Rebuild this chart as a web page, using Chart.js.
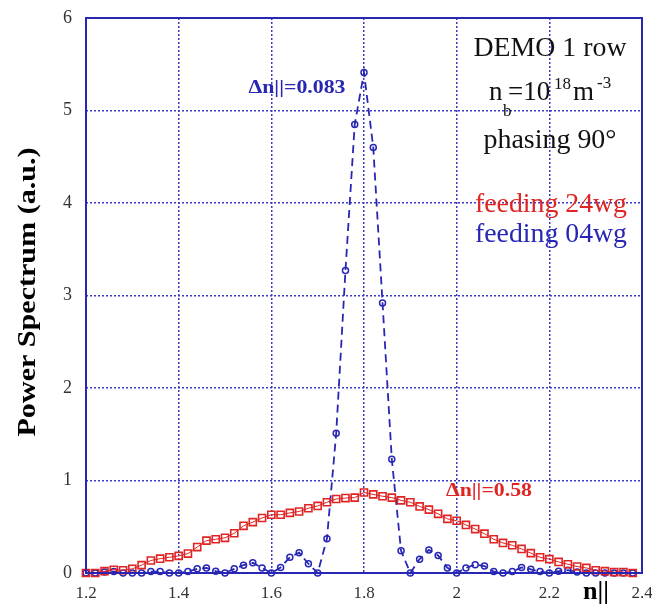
<!DOCTYPE html>
<html lang="en">
<head>
  <meta charset="UTF-8" />
  <title>DEMO 1 row - Power Spectrum</title>
  <script src="https://cdn.jsdelivr.net/npm/chart.js"></script>
  <style>
    html, body { margin: 0; padding: 0; background: #fff; }
    #wrap { width: 652px; height: 604px; position: relative; }
  </style>
</head>
<body>
  <div id="wrap">
    <canvas id="spectrum" width="652" height="604"></canvas>
  </div>

  <script>
    // n|| sample points (step 0.02)
    const nPar = [
      1.20, 1.22, 1.24, 1.26, 1.28, 1.30, 1.32, 1.34, 1.36, 1.38,
      1.40, 1.42, 1.44, 1.46, 1.48, 1.50, 1.52, 1.54, 1.56, 1.58,
      1.60, 1.62, 1.64, 1.66, 1.68, 1.70, 1.72, 1.74, 1.76, 1.78,
      1.80, 1.82, 1.84, 1.86, 1.88, 1.90, 1.92, 1.94, 1.96, 1.98,
      2.00, 2.02, 2.04, 2.06, 2.08, 2.10, 2.12, 2.14, 2.16, 2.18,
      2.20, 2.22, 2.24, 2.26, 2.28, 2.30, 2.32, 2.34, 2.36, 2.38
    ];

    // feeding 24wg (red squares)
    const feed24 = [
      0, 0, 0.02, 0.035, 0.03, 0.045, 0.085, 0.135, 0.155, 0.17,
      0.185, 0.21, 0.28, 0.35, 0.365, 0.38, 0.43, 0.51, 0.55, 0.595,
      0.63, 0.63, 0.65, 0.665, 0.70, 0.725, 0.765, 0.80, 0.81, 0.815,
      0.87, 0.85, 0.83, 0.815, 0.785, 0.765, 0.72, 0.685, 0.64, 0.585,
      0.565, 0.52, 0.475, 0.425, 0.365, 0.325, 0.30, 0.26, 0.215, 0.17,
      0.15, 0.12, 0.095, 0.07, 0.055, 0.03, 0.02, 0.01, 0.01, 0
    ];

    // feeding 04wg (blue circles, dashed)
    const feed04 = [
      0, 0, 0.01, 0.015, 0, 0, 0, 0.015, 0.015, 0,
      0, 0.015, 0.045, 0.055, 0.02, 0, 0.045, 0.085, 0.11, 0.055,
      0, 0.06, 0.17, 0.22, 0.10, 0, 0.37, 1.51, 3.27, 4.85,
      5.41, 4.60, 2.92, 1.23, 0.24, 0, 0.15, 0.25, 0.19, 0.055,
      0, 0.055, 0.09, 0.075, 0.015, 0, 0.015, 0.06, 0.04, 0.015,
      0, 0.02, 0.03, 0.01, 0, 0, 0, 0, 0, 0
    ];

    const xTicks = [1.2, 1.4, 1.6, 1.8, 2.0, 2.2, 2.4];
    const yTicks = [0, 1, 2, 3, 4, 5, 6];

    const BLUE = '#2727b4';
    const RED = '#e02424';
    const GRID = '#3a3ac4';
    const SERIF = '"Liberation Serif", "DejaVu Serif", serif';

    // draw text stretched/compressed to a target width
    function fitText(ctx, text, cx, base, font, width, color) {
      ctx.save();
      ctx.font = font;
      ctx.fillStyle = color;
      const w = ctx.measureText(text).width;
      ctx.translate(cx, base);
      ctx.scale(width / w, 1);
      ctx.textAlign = 'center';
      ctx.textBaseline = 'alphabetic';
      ctx.fillText(text, 0, 0);
      ctx.restore();
    }

    function put(ctx, text, x, base, font, color) {
      ctx.font = font;
      ctx.fillStyle = color;
      ctx.textAlign = 'left';
      ctx.textBaseline = 'alphabetic';
      ctx.fillText(text, x, base);
    }

    const decorations = {
      id: 'decorations',
      afterDraw(chart) {
        const ctx = chart.ctx;
        const a = chart.chartArea;
        ctx.save();

        // solid frame
        ctx.strokeStyle = BLUE;
        ctx.lineWidth = 2;
        ctx.strokeRect(a.left, a.top, a.right - a.left, a.bottom - a.top);

        // axis titles
        ctx.save();
        ctx.translate(27, 292);
        ctx.rotate(-Math.PI / 2);
        fitText(ctx, 'Power Spectrum (a.u.)', 0, 8, 'bold 26px ' + SERIF, 289, '#000');
        ctx.restore();
        fitText(ctx, 'n||', 596, 599, 'bold 26px ' + SERIF, 26, '#000');

        // legend block
        fitText(ctx, 'DEMO 1 row', 550, 56, '27px ' + SERIF, 153, '#111');
        put(ctx, 'n', 489, 100, '27px ' + SERIF, '#111');
        put(ctx, 'b', 503, 116, '17px ' + SERIF, '#111');
        put(ctx, '=10', 508, 100, '27px ' + SERIF, '#111');
        put(ctx, '18', 554, 89, '17px ' + SERIF, '#111');
        put(ctx, 'm', 573, 100, '27px ' + SERIF, '#111');
        put(ctx, '-3', 597, 88, '17px ' + SERIF, '#111');
        fitText(ctx, 'phasing 90°', 550, 148, '27px ' + SERIF, 133, '#111');
        fitText(ctx, 'feeding 24wg', 551, 212, '27px ' + SERIF, 152, RED);
        fitText(ctx, 'feeding 04wg', 551, 242, '27px ' + SERIF, 152, BLUE);

        // widths
        fitText(ctx, 'Δn||=0.083', 297, 93, 'bold 19px ' + SERIF, 97, BLUE);
        fitText(ctx, 'Δn||=0.58', 489, 496, 'bold 19px ' + SERIF, 86, RED);

        ctx.restore();
      }
    };

    const ctx = document.getElementById('spectrum').getContext('2d');

    new Chart(ctx, {
      type: 'line',
      data: {
        datasets: [
          {
            label: 'feeding 24wg',
            data: nPar.map((x, i) => ({ x: x, y: feed24[i] })),
            borderColor: RED,
            borderWidth: 1,
            pointStyle: 'rect',
            pointRadius: 5,
            pointBorderWidth: 1.6,
            pointBorderColor: RED,
            pointBackgroundColor: 'rgba(0,0,0,0)',
            tension: 0,
            clip: false,
          },
          {
            label: 'feeding 04wg',
            data: nPar.map((x, i) => ({ x: x, y: feed04[i] })),
            borderColor: BLUE,
            borderWidth: 1.8,
            borderDash: [8, 5],
            pointStyle: 'circle',
            pointRadius: 3,
            pointBorderWidth: 1.5,
            pointBorderColor: BLUE,
            pointBackgroundColor: 'rgba(0,0,0,0)',
            tension: 0,
            clip: false,
          }
        ]
      },
      options: {
        responsive: false,
        animation: false,
        events: [],
        layout: { padding: { top: 18, right: 10, left: 0, bottom: 0 } },
        plugins: {
          legend: { display: false },
          tooltip: { enabled: false }
        },
        scales: {
          x: {
            type: 'linear',
            min: 1.2,
            max: 2.4,
            afterBuildTicks: s => { s.ticks = xTicks.map(v => ({ value: v })); },
            afterFit: s => {
              s.height = 31;
              s.paddingLeft = 0;
              s.paddingRight = 0;
            },
            ticks: {
              padding: 10,
              maxRotation: 0,
              color: '#333',
              font: { family: SERIF, size: 17 },
              callback: v => String(Number(v.toFixed(1)))
            },
            grid: { color: GRID, lineWidth: 1.5, drawTicks: false },
            border: { display: false, dash: [2, 2] }
          },
          y: {
            type: 'linear',
            min: 0,
            max: 6,
            afterBuildTicks: s => { s.ticks = yTicks.map(v => ({ value: v })); },
            afterFit: s => {
              s.width = 86;
              s.paddingTop = 0;
              s.paddingBottom = 0;
            },
            ticks: {
              padding: 14,
              color: '#333',
              font: { family: SERIF, size: 18 },
              callback: v => String(v)
            },
            grid: { color: GRID, lineWidth: 1.5, drawTicks: false },
            border: { display: false, dash: [2, 2] }
          }
        }
      },
      plugins: [decorations]
    });
  </script>
</body>
</html>
